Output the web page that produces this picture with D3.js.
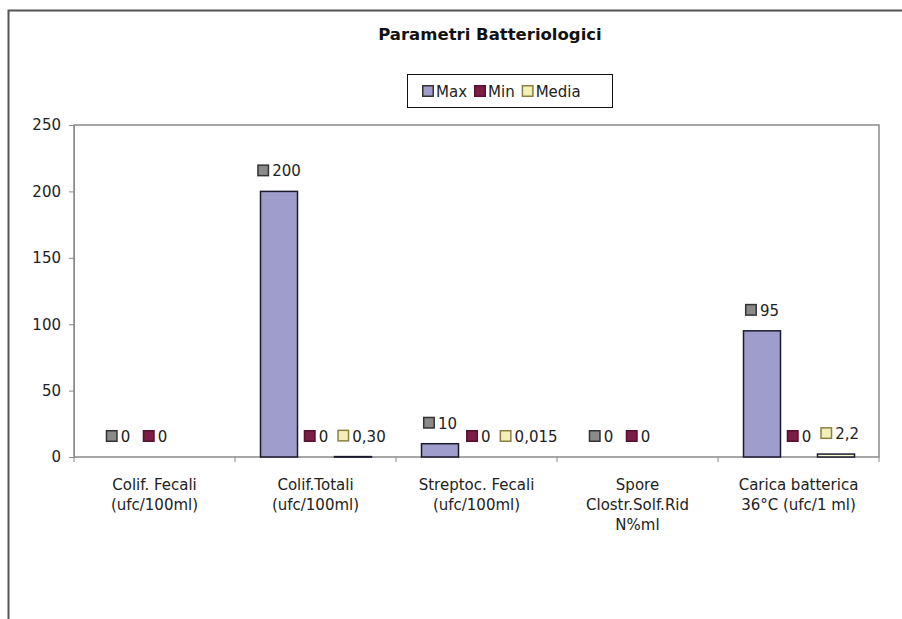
<!DOCTYPE html>
<html><head><meta charset="utf-8">
<script src="https://cdn.jsdelivr.net/npm/d3@7"></script>
<style>body{margin:0;background:#fff}svg{display:block;font-family:"DejaVu Sans",sans-serif}</style>
</head><body><svg id="c" width="902" height="619"></svg>
<script>
const categories = [["Colif. Fecali","(ufc/100ml)"],["Colif.Totali","(ufc/100ml)"],["Streptoc. Fecali","(ufc/100ml)"],["Spore","Clostr.Solf.Rid","N%ml"],["Carica batterica","36°C (ufc/1 ml)"]];
const seriesNames = ["Max","Min","Media"];
const maxValues = [0,200,10,0,95];
const minValues = [0,0,0,0,0];
const mediaValues = [null,0.30,0.015,null,2.2];
const maxLabels = ["0","200","10","0","95"];
const minLabels = ["0","0","0","0","0"];
const mediaLabels = [null,"0,30","0,015",null,"2,2"];
const yTicks = [0,50,100,150,200,250];
const colors = ["#9f9dcb","#7b1d45","#fbfbcf"];
const keyFill = ["#8a8a8a","#7b1d45","#f3efb8"];
const keyStroke = ["#333","#5a1030","#8a8040"];
const FS = 15;

const svg = d3.select("#c");
// outer frame
svg.append("path").attr("d","M8.5,619 L8.5,10.5 L902,10.5").attr("fill","none").attr("stroke","#555").attr("stroke-width",2);

const L=74,R=879,T=125,B=457;
const y = d3.scaleLinear().domain([0,250]).range([B,T]);
const x = d3.scaleBand().domain(d3.range(categories.length)).range([L,R]);
const xs = d3.scaleBand().domain(seriesNames).range([25.5, 25.5+111]);

svg.append("text").attr("x",490).attr("y",40).attr("text-anchor","middle").attr("font-weight","bold").attr("font-size",16.5).attr("fill","#111").text("Parametri Batteriologici");

// plot area border
svg.append("rect").attr("x",L).attr("y",T).attr("width",R-L).attr("height",B-T).attr("fill","none").attr("stroke","#8a8a8a").attr("stroke-width",1.5);

// y axis
const ya = svg.append("g").attr("transform",`translate(${L},0)`).call(d3.axisLeft(y).tickValues(yTicks).tickSize(5).tickPadding(8));
ya.select(".domain").attr("stroke","#8a8a8a");
ya.selectAll(".tick line").attr("stroke","#8a8a8a");
ya.selectAll("text").attr("font-size",FS).attr("fill","#222").attr("font-family","DejaVu Sans");

// x ticks between categories
const xb = d3.range(categories.length+1).map(i=>L+i*x.bandwidth());
svg.selectAll(".xt").data(xb).join("line").attr("x1",d=>d).attr("x2",d=>d).attr("y1",B).attr("y2",B+5).attr("stroke","#8a8a8a");

// category labels
categories.forEach((lines,i)=>{
  const cx = x(i)+x.bandwidth()/2;
  const t = svg.append("text").attr("x",cx).attr("y",490).attr("text-anchor","middle").attr("font-size",FS).attr("fill","#222");
  lines.forEach((l,j)=>t.append("tspan").attr("x",cx).attr("dy",j?20:0).text(l));
});

const allVals=[maxValues,minValues,mediaValues];
const allLabels=[maxLabels,minLabels,mediaLabels];
const barLayer = svg.append("g");
const labLayer = svg.append("g");
categories.forEach((c,i)=>{
  const placed = [];
  seriesNames.forEach((s,si)=>{
    const v = allVals[si][i];
    if(v===null) return;
    const bx = x(i)+xs(s);
    if(B-y(v) > 0.1){
      barLayer.append("rect").attr("x",bx).attr("width",xs.bandwidth()).attr("y",y(v)).attr("height",Math.max(B-y(v),0.5))
        .attr("fill",colors[si]).attr("stroke","#1a1a2e").attr("stroke-width",1.5);
    }
    const cx = bx+xs.bandwidth()/2;
    const ly = y(v)-15;
    const g = labLayer.append("g");
    const txt = g.append("text").attr("x",15).attr("y",0).attr("font-size",FS).attr("fill","#222").text(allLabels[si][i]);
    const w = 15+txt.node().getComputedTextLength();
    g.append("rect").attr("x",0.75).attr("y",-11.25).attr("width",10.5).attr("height",10.5).attr("fill",keyFill[si]).attr("stroke",keyStroke[si]).attr("stroke-width",1.5);
    let left = cx-w/2;
    placed.forEach(p=>{ if(Math.abs(p.y-ly)<14 && p.right+9>left) left = p.right+9; });
    placed.push({right:left+w,y:ly});
    g.attr("transform",`translate(${left},${ly})`);
  });
});

// legend
const lg = svg.append("g");
lg.append("rect").attr("x",407.5).attr("y",74.5).attr("width",205).attr("height",33).attr("fill","#fff").attr("stroke","#111").attr("stroke-width",1);
let lx=422;
seriesNames.forEach((s,si)=>{
  lg.append("rect").attr("x",lx+0.75).attr("y",85.75).attr("width",10.5).attr("height",10.5).attr("fill",si==0?"#9f9dcb":keyFill[si]).attr("stroke",keyStroke[si]).attr("stroke-width",1.5);
  const t=lg.append("text").attr("x",lx+14).attr("y",97).attr("font-size",FS).attr("fill","#222").text(s);
  lx += 14+t.node().getComputedTextLength()+7;
});
</script></body></html>
